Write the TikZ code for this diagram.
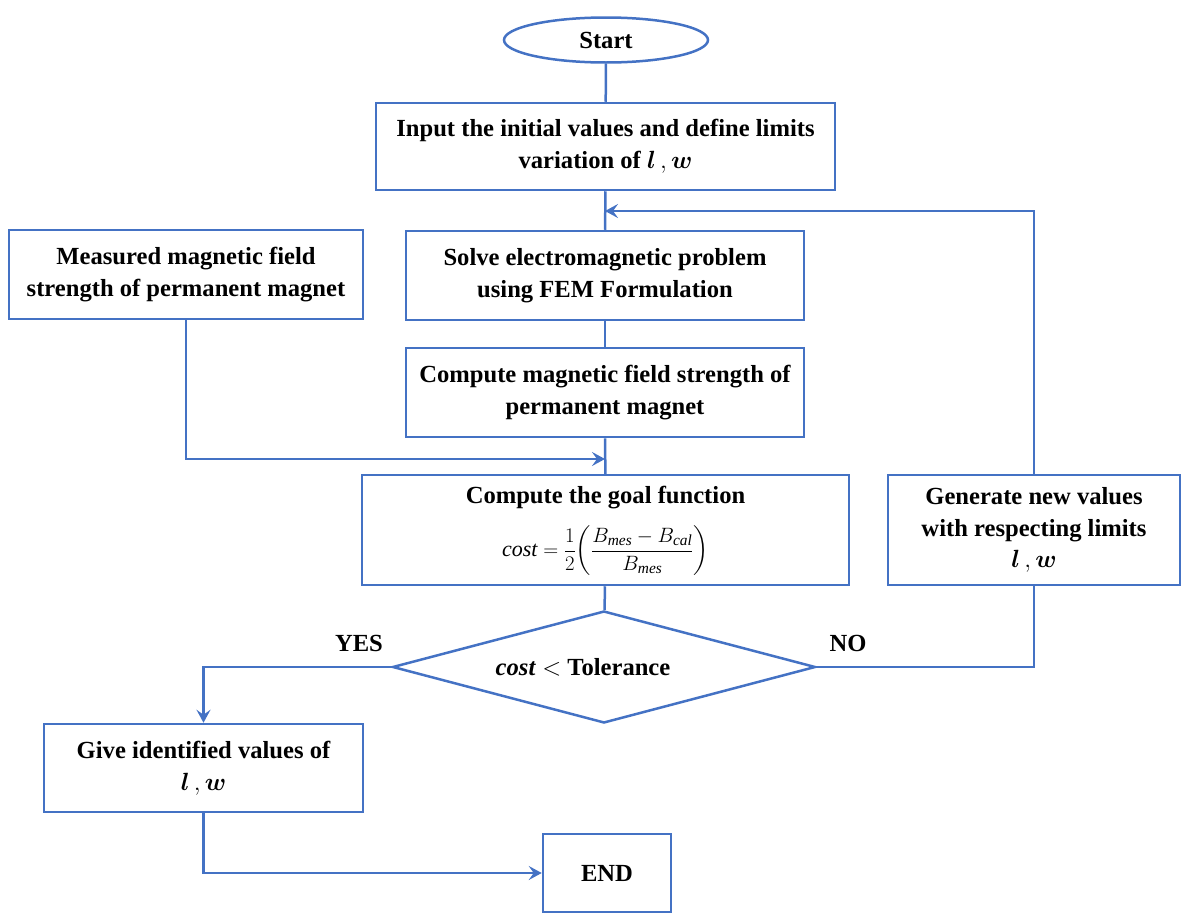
\documentclass[tikz,border=0pt]{standalone}
\usepackage{fontspec}
\usepackage{amsmath}
\setmainfont{Liberation Serif}
\usetikzlibrary{shapes.geometric,arrows.meta}
\definecolor{flowblue}{HTML}{4472C4}
\tikzset{
  frame/.style={draw=flowblue, line width=2.5pt, rectangle, align=center, inner sep=2pt,
    font=\fontsize{24.6}{31.5}\selectfont\bfseries},
  box/.style={frame, execute at begin node={\rule{0pt}{29pt}}},
  terminal/.style={draw=flowblue, line width=2.5pt, ellipse, inner sep=0pt,
    font=\fontsize{24.6}{28}\selectfont\bfseries},
  decision/.style={draw=flowblue, line width=2.5pt, diamond, aspect=3.78, inner sep=0pt,
    font=\fontsize{24.6}{28}\selectfont\bfseries},
  link/.style={draw=flowblue, line width=2.5pt},
  arrow/.style={link, -{Stealth[length=13pt,width=14pt,inset=5pt]}},
  tag/.style={font=\fontsize{24.6}{28}\selectfont\bfseries, inner sep=1pt}
}
\begin{document}
\begin{tikzpicture}[x=1pt,y=-1pt]
\useasboundingbox (0,0) rectangle (1184,913);

\node[terminal, minimum width=204pt, minimum height=45pt] (start) at (606,40) {Start};
\node[box, minimum width=459pt, minimum height=87pt] (input) at (605.5,146.5)
  {Input the initial values and define limits\\variation of $\boldsymbol{l}\,,\boldsymbol{w}$};
\node[box, minimum width=354pt, minimum height=89pt] (meas) at (186,274.5)
  {Measured magnetic field\\strength of permanent magnet};
\node[box, minimum width=398pt, minimum height=89pt] (solve) at (605,275.5)
  {Solve electromagnetic problem\\using FEM Formulation};
\node[box, minimum width=398pt, minimum height=89pt] (compB) at (605,392.5)
  {Compute magnetic field strength of\\permanent magnet};

% goal function box: heading and formula set as two lines inside one frame
\node[frame, minimum width=487pt, minimum height=110pt] (goal) at (605.5,530) {};
\node[tag] (goaltitle) at (605.5,498) {Compute the goal function};
\node[font=\fontsize{22}{26}\selectfont, inner sep=0pt] (goalformula) at (605.5,551)
  {$\mathit{cost}=\dfrac{1}{2}\biggl(\dfrac{B_{\mathit{mes}}-B_{\mathit{cal}}}{B_{\mathit{mes}}}\biggr)$};

\node[decision, minimum width=423pt, minimum height=112pt] (dec) at (604,667)
  {$\boldsymbol{\mathit{cost}}<$ Tolerance\hspace*{42pt}};
\node[box, minimum width=292pt, minimum height=110pt] (gen) at (1034,530)
  {Generate new values\\with respecting limits\\$\boldsymbol{l}\,,\boldsymbol{w}$};
\node[box, minimum width=319pt, minimum height=88pt] (give) at (203.5,768)
  {Give identified values of\\$\boldsymbol{l}\,,\boldsymbol{w}$};
\node[frame, minimum width=128pt, minimum height=78pt] (end) at (607,873)
  {END};

\node[tag] (yes) at (359,643) {YES};
\node[tag] (no) at (848,643) {NO};

\coordinate (merge) at (605,459);
\coordinate (loopin) at (605,211);

% main column
\draw[link] (start) -- (input);
\draw[link] (input) -- (solve);
\draw[link] (solve) -- (compB);
\draw[link] (compB) -- (goal);
\draw[link] (goal) -- (dec);

% measured data joins before the goal function
\draw[arrow] (meas.south) |- (merge);

% decision branches
\draw[arrow] (dec.west) -| (give.north);
\draw[link] (dec.east) -| (gen.south);
\draw[arrow] (gen.north) |- (loopin);
\draw[arrow] (give.south) |- (end.west);
\end{tikzpicture}
\end{document}
